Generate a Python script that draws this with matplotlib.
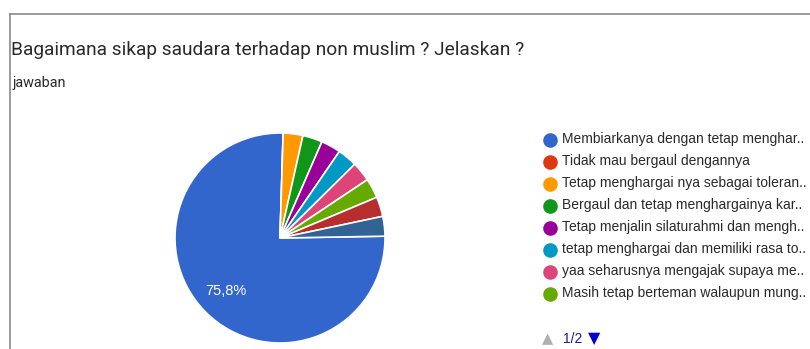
import matplotlib.pyplot as plt

title = "Bagaimana sikap saudara terhadap non muslim ? Jelaskan ?"
subtitle = "jawaban"

labels = ["Membiarkanya dengan tetap menghar..",
          "Tidak mau bergaul dengannya",
          "Tetap menghargai nya sebagai toleran..",
          "Bergaul dan tetap menghargainya kar..",
          "Tetap menjalin silaturahmi dan mengh..",
          "tetap menghargai dan memiliki rasa to..",
          "yaa seharusnya mengajak supaya me..",
          "Masih tetap berteman walaupun mung..",
          "(halaman 2)",
          "(halaman 2)"]
counts = [25, 0, 1, 1, 1, 1, 1, 1, 1, 1]
colors = ["#3366cc", "#dc3912", "#ff9900", "#109618", "#990099",
          "#0099c6", "#dd4477", "#66aa00", "#b82e2e", "#316395"]
legend_rows = 8  # visible on page 1 of 2

W, H = 810, 349
fig = plt.figure(figsize=(W / 100, H / 100), dpi=100)

# overlay in pixel coordinates for frame, text and legend
bg = fig.add_axes([0, 0, 1, 1])
bg.set_xlim(0, W)
bg.set_ylim(H, 0)
bg.axis('off')
bg.plot([9.5, W], [13.5, 13.5], color='#8a8a8a', lw=1.2)
bg.plot([9.5, 9.5], [13.5, H], color='#8a8a8a', lw=1.2)
bg.text(11, 50, title, fontsize=13.8, family='Roboto', color='#2a2a2a', va='center')
bg.text(12, 83, subtitle, fontsize=10.4, family='Roboto', color='#2a2a2a', va='center')

y0, dy = 139.5, 22
for i in range(legend_rows):
    y = y0 + i * dy
    bg.plot(549.5, y, 'o', ms=10.5, color=colors[i], mec='none')
    bg.text(562.5, y, labels[i], fontsize=10.0, family='Liberation Sans',
            color='#2a2a2a', va='center')
ny = 339
bg.text(548, ny, '\u25b2', fontsize=10.5, color='#b0b0b0', ha='center', va='center')
bg.text(562.5, ny, '1/2', fontsize=10.0, family='Liberation Sans', color='#1a1a9a', va='center')
bg.text(594, ny, '\u25bc', fontsize=11.5, color='#0000cc', ha='center', va='center')

# pie
cx, cy, r = 280, 238, 105
ax = fig.add_axes([(cx - r) / W, (H - cy - r) / H, 2 * r / W, 2 * r / H])


def pct(p):
    return ('%.1f%%' % p).replace('.', ',') if p > 10 else ''


wedges, texts, autotexts = ax.pie(counts, colors=colors, startangle=1, counterclock=False,
                                  autopct=pct, pctdistance=0.72,
                                  wedgeprops=dict(edgecolor='white', linewidth=1.2))
for t in autotexts:
    t.set_color('white')
    t.set_fontsize(10.5)
    t.set_family('Liberation Sans')
ax.set_xlim(-1, 1)
ax.set_ylim(-1, 1)

plt.savefig('out.png', dpi=100)
